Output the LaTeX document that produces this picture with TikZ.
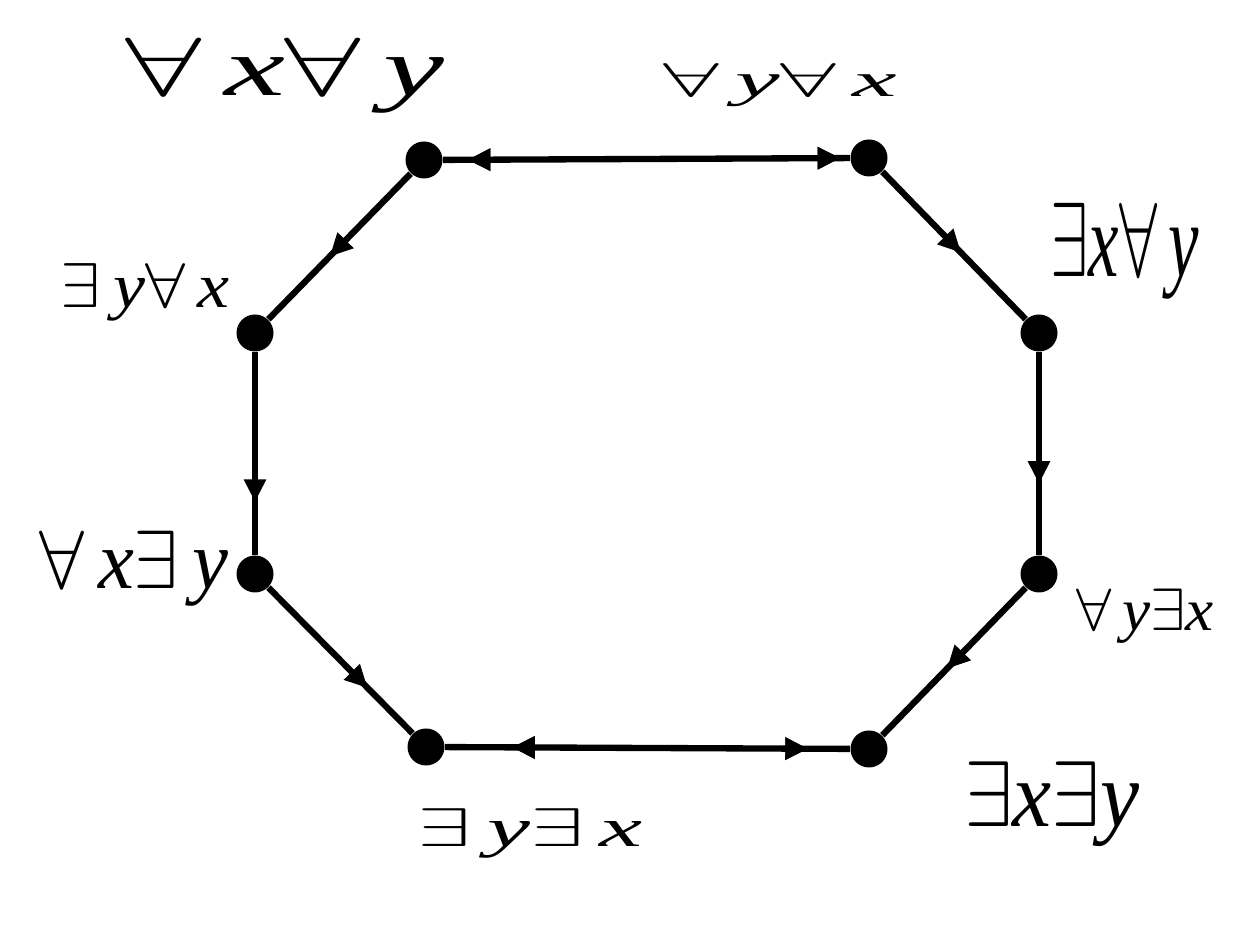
\documentclass[tikz,border=0pt]{standalone}
\usepackage{fontspec}
\setmainfont{Liberation Serif}
\usepackage{tikz}
\usetikzlibrary{arrows.meta,decorations.markings}

\newcommand{\vx}{\textit{x}}
\newcommand{\vy}{\textit{y}}

\tikzset{
  dot/.style={circle, fill=black, inner sep=0pt, minimum size=0.37cm},
  quant/.style={inner sep=0pt, transform shape},
  edge/.style={line width=1.8pt},
  tip/.style={postaction=decorate, decoration={markings,
      mark=at position #1 with {\arrow{Triangle[length=6.5pt,width=6pt]}}}},
  backtip/.style={postaction=decorate, decoration={markings,
      mark=at position #1 with {\arrowreversed{Triangle[length=6.5pt,width=6pt]}}}}
}

\begin{document}
\begin{tikzpicture}
		\useasboundingbox (0, 0) rectangle (12.47, 9.25);
		% the eight corners
		\node [dot] (axay) at (4.24, 7.65) {};
		\node [dot] (ayax) at (8.69, 7.67) {};
		\node [dot] (exay) at (10.39, 5.92) {};
		\node [dot] (ayex) at (10.39, 3.51) {};
		\node [dot] (exey) at (8.69, 1.76) {};
		\node [dot] (eyex) at (4.26, 1.78) {};
		\node [dot] (axey) at (2.55, 3.51) {};
		\node [dot] (eyax) at (2.55, 5.92) {};
		% labels
		\node [quant, xscale=3.9, yscale=2.35] (laxay) at (2.85, 8.49) {$\forall$\,\vx$\forall$\,\vy};
		\node [quant, xscale=2.85, yscale=1.35] (layax) at (7.80, 8.40) {$\forall$\,\vy$\forall$\,\vx};
		\node [quant, xscale=1.95, yscale=3.0] (lexay) at (11.25, 6.74) {$\exists$\vx$\forall$\,\vy};
		\node [quant, xscale=2.05, yscale=1.8] (leyax) at (1.45, 6.33) {$\exists$\,\vy$\forall$\,\vx};
		\node [quant, xscale=2.3, yscale=2.35] (laxey) at (1.34, 3.56) {$\forall$\,\vx$\exists$\,\vy};
		\node [quant, xscale=1.8, yscale=1.7] (layex) at (11.45, 3.09) {$\forall$\,\vy$\exists$\vx};
		\node [quant, xscale=2.75, yscale=1.55] (leyex) at (5.30, 0.92) {$\exists$\,\vy$\exists$\,\vx};
		\node [quant, xscale=2.5, yscale=2.65] (lexey) at (10.52, 1.21) {$\exists$\vx$\exists$\vy};
		% edges
		\draw [edge, backtip=0.06, tip=0.977] (axay) -- (ayax);
		\draw [edge, tip=0.57] (axay) -- (eyax);
		\draw [edge, tip=0.55] (ayax) -- (exay);
		\draw [edge, tip=0.74] (eyax) -- (axey);
		\draw [edge, tip=0.65] (exay) -- (ayex);
		\draw [edge, tip=0.69] (axey) -- (eyex);
		\draw [edge, tip=0.55] (ayex) -- (exey);
		\draw [edge, backtip=0.165, tip=0.897] (eyex) -- (exey);
	\end{tikzpicture}
\end{document}
